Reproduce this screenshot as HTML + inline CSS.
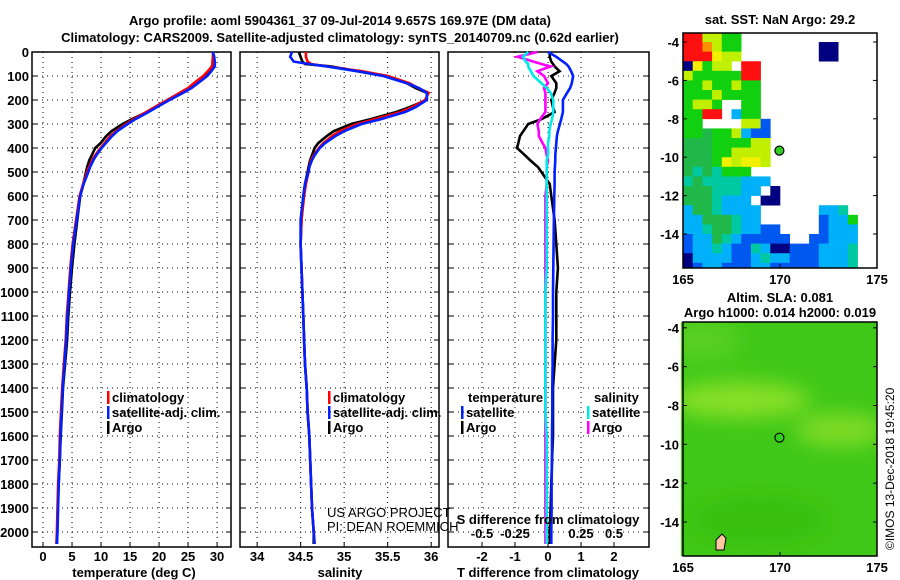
<!DOCTYPE html>
<html><head><meta charset="utf-8"><style>
body{margin:0;background:#fff}
svg{display:block;font-family:"Liberation Sans",sans-serif}
.b{font-weight:bold;font-size:13px}
</style></head><body>
<svg id="s" width="900" height="580" xmlns="http://www.w3.org/2000/svg">
<defs>
<clipPath id="c1"><rect x="32" y="40" width="199" height="507"/></clipPath>
<clipPath id="c2"><rect x="240" y="40" width="199" height="507"/></clipPath>
<clipPath id="c3"><rect x="448" y="40" width="201" height="507"/></clipPath>
<filter id="bl"><feGaussianBlur stdDeviation="10"/></filter>
<clipPath id="cm2"><rect x="681" y="322" width="196" height="234"/></clipPath>
</defs>
<text class="b" x="340" y="25" text-anchor="middle">Argo profile: aoml 5904361_37 09-Jul-2014 9.657S 169.97E (DM data)</text>
<text class="b" x="340" y="42" text-anchor="middle">Climatology: CARS2009. Satellite-adjusted climatology: synTS_20140709.nc (0.62d earlier)</text>
<g id="g"></g>
</svg>
<script>
const depths=[0,20,40,50,60,80,100,130,150,170,200,230,250,280,300,330,350,380,400,430,450,480,500,550,600,700,800,900,1000,1100,1200,1300,1400,1500,1600,1700,1800,1900,2000,2050];
const tempClim=[29.3,29.3,29.2,29.2,29.1,28.4,27.6,26.0,25.0,23.6,21.4,19.2,17.8,15.6,14.3,12.6,11.6,10.6,9.9,9.0,8.5,7.9,7.6,6.9,6.3,5.7,5.1,4.7,4.4,4.1,3.9,3.6,3.3,3.1,2.9,2.8,2.6,2.5,2.4,2.3];
const tempSat=[29.3,29.5,29.6,29.6,29.6,29.0,28.3,26.7,25.6,24.2,21.8,19.6,18.2,15.9,14.6,12.8,11.9,10.8,10.1,9.2,8.7,8.1,7.8,7.0,6.4,5.8,5.2,4.8,4.5,4.2,4.0,3.7,3.4,3.2,3.0,2.9,2.7,2.6,2.5,2.4];
const tempArgo=[29.35,29.3,29.3,29.35,29.3,28.7,27.7,26.2,25.2,23.8,21.5,19.3,17.9,15.3,13.7,11.8,10.9,9.9,9.0,8.4,8.0,7.6,7.4,6.95,6.4,5.9,5.4,5.0,4.65,4.35,4.15,3.8,3.45,3.25,3.05,2.9,2.7,2.55,2.45,2.4];
const salClim=[34.56,34.56,34.58,34.62,34.8,35.2,35.5,35.75,35.85,35.97,35.93,35.78,35.65,35.35,35.15,34.95,34.86,34.76,34.71,34.65,34.62,34.6,34.59,34.56,34.54,34.51,34.5,34.51,34.52,34.53,34.54,34.55,34.57,34.58,34.6,34.61,34.62,34.63,34.65,34.66];
const salSat=[34.4,34.38,34.42,34.6,34.8,35.15,35.45,35.72,35.86,35.95,35.95,35.82,35.7,35.42,35.2,35.0,34.9,34.78,34.72,34.66,34.63,34.6,34.59,34.55,34.53,34.5,34.5,34.51,34.52,34.53,34.54,34.55,34.57,34.58,34.6,34.61,34.62,34.63,34.65,34.66];
const salArgo=[34.48,34.5,34.52,34.55,34.85,35.15,35.5,35.72,35.82,35.95,35.95,35.75,35.6,35.3,35.08,34.88,34.8,34.7,34.66,34.63,34.61,34.59,34.58,34.55,34.53,34.51,34.5,34.51,34.52,34.53,34.54,34.55,34.57,34.58,34.6,34.61,34.62,34.63,34.65,34.65];
const tDiffSat=[0,0.25,0.45,0.55,0.62,0.7,0.76,0.72,0.67,0.58,0.45,0.45,0.45,0.4,0.36,0.3,0.27,0.25,0.24,0.22,0.22,0.21,0.2,0.2,0.19,0.18,0.17,0.16,0.15,0.15,0.14,0.14,0.13,0.13,0.12,0.12,0.11,0.11,0.1,0.1];
const tDiffArgo=[0.05,0.05,0.1,0.15,0.2,0.35,0.1,0.25,0.25,0.2,0.1,0.15,0.2,-0.2,-0.6,-0.75,-0.85,-0.9,-0.94,-0.7,-0.55,-0.3,-0.2,0.05,0.1,0.2,0.25,0.3,0.25,0.25,0.25,0.2,0.15,0.15,0.15,0.12,0.1,0.08,0.05,0.05];
const sDiffArgo=[-0.08,-0.23,-0.11,-0.05,0.02,-0.08,-0.03,0,-0.03,-0.02,-0.02,-0.02,-0.02,-0.06,-0.08,-0.07,-0.07,-0.04,-0.02,-0.01,0,-0.01,-0.01,-0.01,-0.02,-0.02,-0.02,-0.02,-0.02,-0.02,-0.02,-0.02,-0.02,-0.02,-0.02,-0.02,-0.02,-0.02,-0.02,-0.02];
const sDiffSat=[-0.15,-0.19,-0.17,-0.15,-0.15,-0.13,-0.11,-0.05,-0.01,0.02,0.04,0.04,0.04,0.03,0.02,0.01,0.01,0,0,0,-0.01,-0.01,-0.01,-0.01,-0.01,-0.01,-0.01,-0.01,-0.02,-0.02,-0.02,-0.02,-0.02,-0.02,-0.01,-0.01,-0.01,-0.01,-0.01,-0.01];
const depthTicks=[0,100,200,300,400,500,600,700,800,900,1000,1100,1200,1300,1400,1500,1600,1700,1800,1900,2000];
const tempTicks=[0,5,10,15,20,25,30];
const salTicks=[34,34.5,35,35.5,36];
const tdTicks=[-2,-1,0,1,2];
const sdTicks=[-0.5,-0.25,0,0.25,0.5];
const latTicks=[-4,-6,-8,-10,-12,-14];
const lonTicks=[165,170,175];
const sstRows=[
"RRLLGG..............",
"RROLGG........NN....",
"RRRYLL........NN....",
"NYGLL.RR............",
"LGGGGGRR............",
"GGLGGLGG............",
"GGGLGGGG............",
"GLLG..GG............",
"GGRR.CGG............",
"GG....LLB...........",
"GGgGGLCBB...........",
"gggGGGGLL...........",
"gggGGLLLL...........",
"gggGYLYYL...........",
"gTgTGGG.............",
"TgTTTTCCC...........",
"gggTTTCC.N..........",
"gggTCCC.NN..........",
"CggTCCCC......CCT...",
"CCgggTCC......BCCG..",
"CCTggTCCBB....BCCC..",
"BCCgTCBBBBB..BBCCC..",
"BCCTCBBTCNNBBBCCCT..",
"NCCCCBBCTCCBBBCCCT..",
"NBCCBBBCCBBBBBCCCT.."];
const sstColors={R:"#ff1010",O:"#ff9000",Y:"#f0f000",L:"#c0f000",G:"#10d010",g:"#20b848",T:"#00c8a0",C:"#00b0f8",B:"#0058f0",N:"#000080"};
const argoPos=[169.97,-9.657];

const NS="http://www.w3.org/2000/svg";
const G=document.getElementById('g');
function el(t,a,p){const e=document.createElementNS(NS,t);for(const k in a)e.setAttribute(k,a[k]);(p||G).appendChild(e);return e;}
function txt(x,y,s,anchor,cls,p){const e=el('text',{x:x,y:y,'text-anchor':anchor||'start','class':cls||'b'},p);e.textContent=s;return e;}
const Y=d=>52+d*0.24;
const yTop=40,yBot=547;
const panels=[
 {x0:32,x1:231,v0:-1.9,v1:32.4,clip:'c1',ticks:tempTicks,name:'temperature'},
 {x0:240,x1:439,v0:33.803,v1:36.09,clip:'c2',ticks:salTicks,name:'salinity'},
 {x0:448,x1:649,v0:-3.03,v1:3.06,clip:'c3',ticks:tdTicks,name:'t-difference'}];
function X(p,v){return p.x0+(v-p.v0)/(p.v1-p.v0)*(p.x1-p.x0);}
panels.forEach((p,pi)=>{
 const grp=el('g',{});
 
 
 depthTicks.forEach(d=>{
  const l=el('line',{x1:p.x0,x2:p.x1,y1:Y(d),y2:Y(d),stroke:'#000','stroke-width':1,'stroke-dasharray':'1,4'},grp);
  
  
  el('line',{x1:p.x0,x2:p.x0+5,y1:Y(d),y2:Y(d),stroke:'#000'},grp);
  el('line',{x1:p.x1-5,x2:p.x1,y1:Y(d),y2:Y(d),stroke:'#000'},grp);
  if(pi==0){const t=txt(29,Y(d)+5,String(d),'end','b',grp);
   
   }
 });
 p.ticks.forEach(v=>{
  const x=X(p,v);
  el('line',{x1:x,x2:x,y1:yTop+12,y2:yBot,stroke:'#000','stroke-dasharray':'1,4'},grp);
  el('line',{x1:x,x2:x,y1:yBot-5,y2:yBot,stroke:'#000'},grp);
  const t=txt(x,561,String(v),'middle','b',grp);
  
  
 });
 const r=el('rect',{x:p.x0,y:yTop+12,width:p.x1-p.x0,height:yBot-yTop-12,fill:'none',stroke:'#000','stroke-width':1.5},grp);
 
 
});
const sdp={x0:448,x1:649,v0:-0.7575,v1:0.765,clip:'c3'};
sdTicks.forEach(v=>{const t=txt(X(sdp,v),538,String(v),'middle','b');
 
 });
function line(p,vals,color,name){
 const n=Math.min(vals.length,depths.length);let pts=[];
 for(let i=0;i<n;i++)pts.push(X(p,vals[i]).toFixed(1)+','+Y(depths[i]).toFixed(1));
 const e=el('polyline',{points:pts.join(' '),fill:'none',stroke:color,'stroke-width':2.6,'clip-path':'url(#'+p.clip+')'});
 
 
}
line(panels[0],tempArgo,'#000','temp-argo-line');
line(panels[0],tempClim,'#f00','temp-climatology-line');
line(panels[0],tempSat,'#0020ff','temp-satellite-line');
line(panels[1],salArgo,'#000','sal-argo-line');
line(panels[1],salClim,'#f00','sal-climatology-line');
line(panels[1],salSat,'#0020ff','sal-satellite-line');
line(panels[2],tDiffArgo,'#000','tdiff-argo-line');
line(sdp,sDiffArgo,'#ff00ff','sdiff-argo-line');
line(panels[2],tDiffSat,'#0020ff','tdiff-satellite-line');
line(sdp,sDiffSat,'#00e8e8','sdiff-satellite-line');
[[134,'temperature (deg C)'],[340,'salinity'],[548,'T difference from climatology']].forEach(a=>{
 const t=txt(a[0],577,a[1],'middle');
 
 });
const st=txt(548,524,'S difference from climatology','middle');


function leg(x,y,c,s){el('rect',{x:x,y:y-11,width:2.5,height:13,fill:c});const t=txt(x+5,y,s);
 
 }
[107,328].forEach(x=>{leg(x,402,'#f00','climatology');leg(x,417,'#0020ff','satellite-adj. clim.');leg(x,432,'#000','Argo');});
txt(468,402,'temperature');leg(461,417,'#0020ff','satellite');leg(461,432,'#000','Argo');
txt(594,402,'salinity');leg(587,417,'#00e8e8','satellite');leg(587,432,'#ff00ff','Argo');
const u1=el('text',{x:327,y:517,'font-size':13});u1.textContent='US ARGO PROJECT';


const u2=el('text',{x:327,y:531,'font-size':13});u2.textContent='PI: DEAN ROEMMICH';


function mapFrame(y0,y1,latTop,latBot,name){
 const mx0=683,mx1=877;
 const lx=v=>mx0+(v-165)/10*(mx1-mx0);
 const ly=v=>y0+(latTop-v)/(latTop-latBot)*(y1-y0);
 return {lx,ly,draw(){
  const r=el('rect',{x:mx0,y:y0,width:mx1-mx0,height:y1-y0,fill:'none',stroke:'#000','stroke-width':1.5});
  
  
  latTicks.forEach(v=>{el('line',{x1:mx0,x2:mx0+4,y1:ly(v),y2:ly(v),stroke:'#000'});el('line',{x1:mx1-4,x2:mx1,y1:ly(v),y2:ly(v),stroke:'#000'});
   const t=txt(mx0-4,ly(v)+5,String(v),'end');
   
   });
  lonTicks.forEach(v=>{el('line',{x1:lx(v),x2:lx(v),y1:y1-4,y2:y1,stroke:'#000'});
   const t=txt(lx(v),y1+16,String(v),'middle');
   
   });
 }};
}
const m1=mapFrame(33,268,-3.53,-15.77,'sst-map');
sstRows.forEach((row,ri)=>{for(let ci=0;ci<row.length;ci++){const c=row[ci];if(c==='.')continue;
 const la=-3.5-ri*0.5,lo=165+ci*0.5;
 const x0=m1.lx(lo),y0=Math.max(m1.ly(la),33),y1=Math.min(m1.ly(la-0.5),268);
 const e=el('rect',{x:x0,y:y0,width:m1.lx(lo+0.5)-x0+0.3,height:y1-y0+0.3,fill:sstColors[c]});
 
 }});
const d1=el('circle',{cx:m1.lx(argoPos[0]),cy:m1.ly(argoPos[1]),r:4.5,fill:'#30d020',stroke:'#000','stroke-width':1.2});


m1.draw();
txt(780,24,'sat. SST: NaN Argo: 29.2','middle');
const m2=mapFrame(322,556,-3.7,-15.75,'sla-map');
const bg=el('g',{'clip-path':'url(#cm2)'});
el('rect',{x:681,y:322,width:196,height:234,fill:'#40c818'},bg);
const bl=el('g',{filter:'url(#bl)'},bg);
el('ellipse',{cx:740,cy:400,rx:70,ry:18,fill:'#88e028'},bl);
el('ellipse',{cx:840,cy:430,rx:45,ry:16,fill:'#80dc28'},bl);
el('ellipse',{cx:700,cy:340,rx:40,ry:20,fill:'#58d020'},bl);
el('ellipse',{cx:760,cy:520,rx:70,ry:25,fill:'#38c010'},bl);
const d2=el('circle',{cx:m2.lx(argoPos[0]),cy:m2.ly(argoPos[1]),r:4.5,fill:'#30d020',stroke:'#000','stroke-width':1.2});


el('path',{d:'M716 540 l6 -6 l4 4 l-2 12 l-8 0 z',fill:'#ffc8a0',stroke:'#000'});
m2.draw();
txt(780,302,'Altim. SLA: 0.081','middle');
txt(780,317,'Argo h1000: 0.014 h2000: 0.019','middle');
const cr=el('text',{x:0,y:0,'font-size':12,transform:'translate(894,550) rotate(-90)'});
cr.textContent='©IMOS 13-Dec-2018 19:45:20';


</script>
</body></html>
